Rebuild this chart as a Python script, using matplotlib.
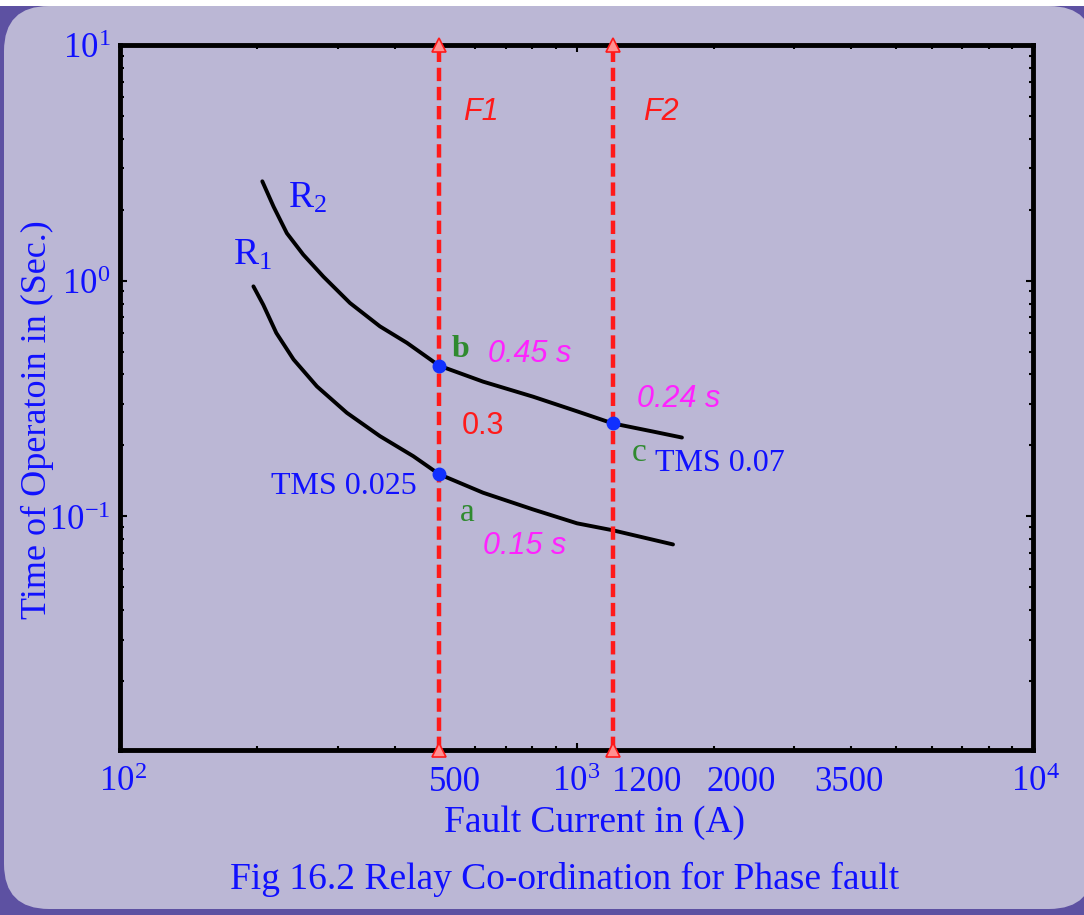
import numpy as np
import matplotlib
matplotlib.use('Agg')
import matplotlib.pyplot as plt
from matplotlib.patches import FancyBboxPatch, Rectangle
from matplotlib.transforms import blended_transform_factory, ScaledTranslation

plt.rcParams['mathtext.fontset'] = 'custom'
plt.rcParams['mathtext.rm'] = 'Liberation Serif'
plt.rcParams['mathtext.it'] = 'Liberation Serif:italic'
plt.rcParams['axes.unicode_minus'] = False

# relay curves (current in A, time in s)
r2_current = [205, 217, 232, 252, 279, 319, 371, 425, 500, 624, 803, 1003, 1200, 1471, 1702]
r2_time = [2.64, 2.06, 1.59, 1.29, 1.04, 0.804, 0.640, 0.545, 0.436, 0.373, 0.322, 0.279,
           0.248, 0.229, 0.216]
r1_current = [196, 206, 220, 240, 270, 314, 371, 439, 500, 624, 803, 1003, 1200, 1627]
r1_time = [0.946, 0.790, 0.600, 0.463, 0.356, 0.275, 0.219, 0.180, 0.151, 0.126, 0.107,
           0.0934, 0.0873, 0.076]

fault_currents = [500, 1200]
fault_names = ['F1', 'F2']
op_points_x = [500, 1200, 500]
op_points_y = [0.436, 0.248, 0.151]

xtick_values = [100, 500, 1000, 1200, 2000, 3500, 10000]
xtick_labels = [r'$\mathrm{10^{2}}$', '500', r'$\mathrm{10^{3}}$', '1200', '2000', '3500', r'$\mathrm{10^{4}}$']
xtick_shift = [3, 16, 0, 34, 27, 24, 2]   # px, label drift in the original
ytick_values = [0.1, 1, 10]
ytick_labels = [r'$\mathrm{10^{-1}}$', r'$\mathrm{10^{0}}$', r'$\mathrm{10^{1}}$']

BLUE = '#1010ff'
RED = '#ff1a1a'
MAGENTA = '#ff22ff'
GREEN = '#2f8a2f'
LAVENDER = '#bbb7d5'
PURPLE = '#5d51a2'
SERIF = 'Liberation Serif'
SANS = 'Liberation Sans'

fig = plt.figure(figsize=(10.84, 9.15), dpi=100)
fig.patch.set_facecolor('white')
fig.patches.append(Rectangle((0, 0), 10.84, 9.09, transform=fig.dpi_scale_trans,
                             facecolor=PURPLE, edgecolor='none', zorder=-11))
fig.patches.append(FancyBboxPatch((0.04, 0.06), 10.9, 9.03,
                                  boxstyle='round,pad=0,rounding_size=0.45',
                                  transform=fig.dpi_scale_trans,
                                  facecolor=LAVENDER, edgecolor='none', zorder=-10))

ax = fig.add_axes([120 / 1084, 165 / 915, 913 / 1084, 705 / 915])
ax.set_facecolor(LAVENDER)
ax.set_xscale('log')
ax.set_yscale('log')
ax.set_xlim(100, 10000)
ax.set_ylim(0.0102, 10)
for s in ax.spines.values():
    s.set_linewidth(3.5)
    s.set_color('black')

ax.tick_params(which='both', direction='in', top=True, right=True, color='black')
ax.tick_params(which='major', length=5, width=1.5)
ax.tick_params(which='minor', length=3, width=1.5)
ax.set_xticks([100, 1000, 10000])
ax.set_xticklabels([])
ax.set_yticks(ytick_values)
ax.set_yticklabels(ytick_labels, fontsize=25, color=BLUE)
ax.tick_params(axis='y', which='major', pad=7)

trans = blended_transform_factory(ax.transData, ax.transAxes)
for v, lab, sh in zip(xtick_values, xtick_labels, xtick_shift):
    t = trans + ScaledTranslation(sh / 100, -16 / 100, fig.dpi_scale_trans)
    ax.text(v, 0, lab, transform=t, ha='center', va='top', fontsize=25,
            color=BLUE, family=SERIF, clip_on=False)

# curves
ax.plot(r2_current, r2_time, color='black', lw=2.8, solid_capstyle='round',
        solid_joinstyle='round', zorder=3)
ax.plot(r1_current, r1_time, color='black', lw=2.8, solid_capstyle='round',
        solid_joinstyle='round', zorder=3)

# fault lines
ylo, yhi = ax.get_ylim()
for fc in fault_currents:
    ax.plot([fc, fc], [ylo, yhi], color=RED, lw=3.2, ls=(0, (3, 1.3)), zorder=4, clip_on=False)
    ax.plot([fc, fc], [ylo, yhi], ls='none', marker='^', ms=10, mfc='#ff9090',
            mec=RED, mew=1.2, zorder=5, clip_on=False)

ax.plot(op_points_x, op_points_y, ls='none', marker='o', ms=9, color='#1030ff', zorder=6)

# annotations
ax.text(564, 4.81, fault_names[0], color=RED, fontsize=22, style='italic', family=SANS)
ax.text(1399, 4.81, fault_names[1], color=RED, fontsize=22, style='italic', family=SANS)
ax.text(233, 2.04, r'$\mathrm{R_2}$', color=BLUE, fontsize=27)
ax.text(177, 1.17, r'$\mathrm{R_1}$', color=BLUE, fontsize=27)
ax.text(533, 0.476, 'b', color=GREEN, fontsize=23, family=SERIF, weight='bold')
ax.text(640, 0.450, '0.45 s', color=MAGENTA, fontsize=22, style='italic', family=SANS)
ax.text(1357, 0.292, '0.24 s', color=MAGENTA, fontsize=22, style='italic', family=SANS)
ax.text(561, 0.2226, '0.3', color=RED, fontsize=22, family=SANS)
ax.text(1323, 0.171, 'c', color=GREEN, fontsize=24, family=SERIF)
ax.text(1486, 0.155, 'TMS 0.07', color=BLUE, fontsize=23, family=SERIF)
ax.text(447, 0.124, 'TMS 0.025', color=BLUE, fontsize=23, family=SERIF, ha='right')
ax.text(556, 0.0953, 'a', color=GREEN, fontsize=24, family=SERIF)
ax.text(624, 0.069, '0.15 s', color=MAGENTA, fontsize=22, style='italic', family=SANS)

fig.text(595 / 1084, 1 - 823 / 915, 'Fault Current in (A)', ha='center', va='center',
         fontsize=27, color=BLUE, family=SERIF)
fig.text(37 / 1084, 1 - 420 / 915, 'Time of Operatoin in (Sec.)', ha='center', va='center',
         rotation=90, fontsize=26, color=BLUE, family=SERIF)
fig.text(565 / 1084, 1 - 879 / 915, 'Fig 16.2 Relay Co-ordination for Phase fault',
         ha='center', va='center', fontsize=27, color=BLUE, family=SERIF)

fig.savefig('out.png', dpi=100, facecolor=fig.get_facecolor())
